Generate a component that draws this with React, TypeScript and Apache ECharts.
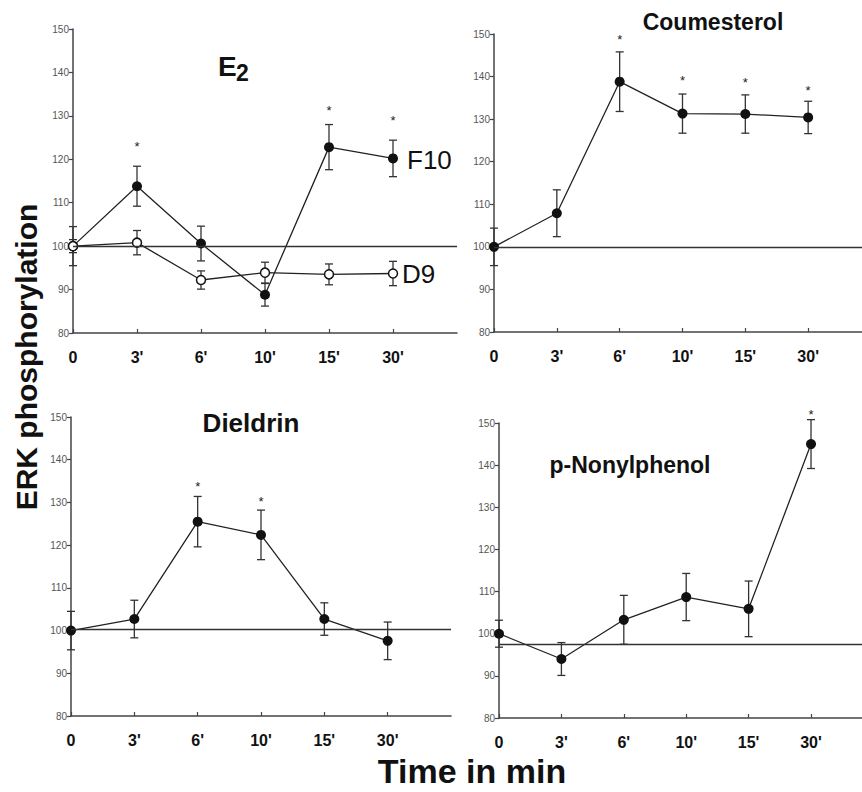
import React, { useEffect, useRef } from "react";
import * as echarts from "echarts";

const categories = ["0", "3'", "6'", "10'", "15'", "30'"];

const e2F10 = [100, 113.8, 100.6, 88.8, 122.8, 120.2];
const e2F10Err = [4.5, 4.6, 4.0, 2.6, 5.2, 4.2];
const e2F10Star = [null, 123.5, null, null, 131.7, 129.5];
const e2D9 = [100, 100.8, 92.2, 93.9, 93.5, 93.7];
const e2D9Err = [1.5, 2.8, 2.1, 2.4, 2.4, 2.8];

const coum = [100, 107.9, 138.8, 131.3, 131.2, 130.4];
const coumErr = [4.4, 5.5, 7.0, 4.6, 4.5, 3.8];
const coumStar = [null, null, 149.2, 139.5, 139.0, 137.2];

const diel = [100, 102.7, 125.5, 122.4, 102.7, 97.6];
const dielErr = [4.5, 4.4, 5.9, 5.8, 3.8, 4.4];
const dielStar = [null, null, 134.3, 130.8, null, null];

const nonyl = [100, 94.0, 103.3, 108.7, 105.9, 145.0];
const nonylErr = [3.2, 3.9, 5.8, 5.6, 6.6, 5.8];
const nonylStar = [null, null, null, null, null, 152.4];

const refLines = [100, 100, 100.4, 97.5];

const yTicks = { min: 80, max: 150, interval: 10 };
// visible extent of each time axis (in category slots); right panels run off the page
const xMax = [6, 5.857, 6, 5.817];

const FONT = "'Liberation Sans', Arial, sans-serif";

const grids = [
  { left: 73, top: 29, width: 384, height: 304 },
  { left: 494, top: 34, width: 368, height: 298 },
  { left: 71, top: 417, width: 380, height: 299 },
  { left: 499, top: 423, width: 363, height: 295 },
];

function errSeries(idx: number, vals: number[], errs: number[], stars: (number | null)[] | null) {
  return {
    type: "custom",
    xAxisIndex: idx,
    yAxisIndex: idx,
    z: 2,
    silent: true,
    clip: false,
    encode: { x: 0, y: 1 },
    data: vals.map((v, i) => [i, v, errs[i], stars && stars[i] != null ? stars[i] : NaN]),
    renderItem: (params: any, api: any) => {
      const x = api.value(0);
      const y = api.value(1);
      const e = api.value(2);
      const s = api.value(3);
      const top = api.coord([x, y + e]);
      const bot = api.coord([x, y - e]);
      const cw = 4;
      const st = { stroke: "#333", lineWidth: 1.3 };
      const children: any[] = [
        { type: "line", shape: { x1: top[0], y1: top[1], x2: bot[0], y2: bot[1] }, style: st },
        { type: "line", shape: { x1: top[0] - cw, y1: top[1], x2: top[0] + cw, y2: top[1] }, style: st },
        { type: "line", shape: { x1: bot[0] - cw, y1: bot[1], x2: bot[0] + cw, y2: bot[1] }, style: st },
      ];
      if (isFinite(s)) {
        const p = api.coord([x, s]);
        children.push({
          type: "text",
          x: p[0],
          y: p[1] + 2,
          style: {
            text: "*",
            fill: "#222",
            font: `13px ${FONT}`,
            textAlign: "center",
            textVerticalAlign: "middle",
          },
        });
      }
      return { type: "group", children };
    },
  };
}

function lineSeries(idx: number, vals: number[], open: boolean, ref: number | null) {
  const s: any = {
    type: "line",
    xAxisIndex: idx,
    yAxisIndex: idx,
    z: 3,
    data: vals.map((v, i) => [i, v]),
    symbol: "circle",
    symbolSize: open ? 9 : 10,
    lineStyle: { color: "#222", width: 1.3 },
    itemStyle: open
      ? { color: "#fff", borderColor: "#111", borderWidth: 1.5 }
      : { color: "#111", borderWidth: 0 },
  };
  if (ref != null) {
    s.markLine = {
      silent: true,
      symbol: "none",
      label: { show: false },
      lineStyle: { color: "#333", width: 1.3, type: "solid" },
      data: [{ yAxis: ref }],
    };
  }
  return s;
}

export default function App() {
  const ref = useRef<HTMLDivElement>(null);
  useEffect(() => {
    if (!ref.current) return;
    const chart = echarts.init(ref.current, null, { renderer: "svg" });
    const xAxes = grids.map((_, i) => ({
      type: "value",
      gridIndex: i,
      min: 0,
      max: xMax[i],
      interval: 1,
      axisLine: { show: true, onZero: false, lineStyle: { color: "#444", width: 1.5 } },
      axisTick: { show: true, inside: true, length: 4, lineStyle: { color: "#444", width: 1.2 } },
      axisLabel: {
        formatter: (v: number) => (categories[v] !== undefined ? categories[v] : ""),
        fontFamily: FONT,
        fontWeight: "bold",
        fontSize: 16,
        color: "#111",
        margin: 16,
        showMaxLabel: false,
      },
      splitLine: { show: false },
    }));
    const yAxes = grids.map((_, i) => ({
      type: "value",
      gridIndex: i,
      min: yTicks.min,
      max: yTicks.max,
      interval: yTicks.interval,
      axisLine: { show: true, lineStyle: { color: "#444", width: 1.5 } },
      axisTick: { show: true, inside: false, length: 4, lineStyle: { color: "#444", width: 1.2 } },
      axisLabel: { fontFamily: FONT, fontSize: 10, color: "#555", margin: 4 },
      splitLine: { show: false },
    }));
    const titles: any[] = [
      { type: "text", x: 218, y: 66, style: { text: "E", font: `bold 28px ${FONT}`, fill: "#111", textVerticalAlign: "middle" } },
      { type: "text", x: 236, y: 73, style: { text: "2", font: `bold 23px ${FONT}`, fill: "#111", textVerticalAlign: "middle" } },
      { type: "text", x: 713, y: 22, style: { text: "Coumesterol", font: `bold 23px ${FONT}`, fill: "#111", textAlign: "center", textVerticalAlign: "middle" } },
      { type: "text", x: 251, y: 423, style: { text: "Dieldrin", font: `bold 26px ${FONT}`, fill: "#111", textAlign: "center", textVerticalAlign: "middle" } },
      { type: "text", x: 630, y: 465, style: { text: "p-Nonylphenol", font: `bold 23px ${FONT}`, fill: "#111", textAlign: "center", textVerticalAlign: "middle" } },
      { type: "text", x: 407, y: 160, style: { text: "F10", font: `26px ${FONT}`, fill: "#111", textVerticalAlign: "middle" } },
      { type: "text", x: 402, y: 274, style: { text: "D9", font: `26px ${FONT}`, fill: "#111", textVerticalAlign: "middle" } },
      { type: "text", x: 26, y: 357, rotation: Math.PI / 2, style: { text: "ERK phosphorylation", font: `bold 30px ${FONT}`, fill: "#111", textAlign: "center", textVerticalAlign: "middle" } },
      { type: "text", x: 472, y: 771, style: { text: "Time in min", font: `bold 34px ${FONT}`, fill: "#111", textAlign: "center", textVerticalAlign: "middle" } },
    ];
    chart.setOption({
      animation: false,
      backgroundColor: "#fff",
      grid: grids.map((g) => ({ ...g, containLabel: false })),
      xAxis: xAxes,
      yAxis: yAxes,
      graphic: titles,
      series: [
        errSeries(0, e2F10, e2F10Err, e2F10Star),
        errSeries(0, e2D9, e2D9Err, null),
        lineSeries(0, e2F10, false, refLines[0]),
        lineSeries(0, e2D9, true, null),
        errSeries(1, coum, coumErr, coumStar),
        lineSeries(1, coum, false, refLines[1]),
        errSeries(2, diel, dielErr, dielStar),
        lineSeries(2, diel, false, refLines[2]),
        errSeries(3, nonyl, nonylErr, nonylStar),
        lineSeries(3, nonyl, false, refLines[3]),
      ],
    });
    return () => chart.dispose();
  }, []);
  return (
    <div
      ref={ref}
      style={{ position: "absolute", left: 0, top: 0, width: 862, height: 792 }}
    />
  );
}
